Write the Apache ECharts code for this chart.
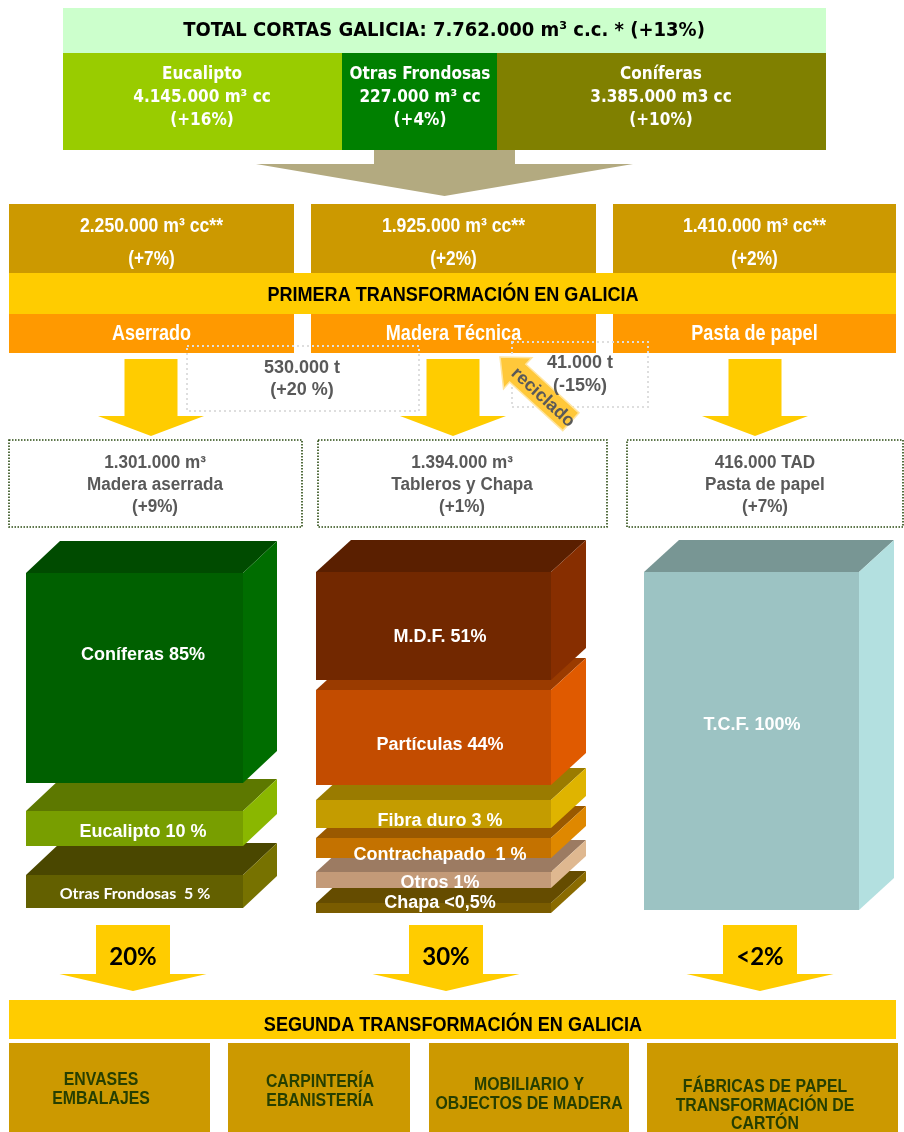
<!DOCTYPE html>
<html><head><meta charset="utf-8">
<script src="https://cdn.jsdelivr.net/npm/echarts@6/dist/echarts.min.js"></script>
<style>html,body{margin:0;padding:0;background:#fff}#c{width:904px;height:1132px}</style>
</head><body><div id="c"></div>
<script>
// ---------- DATA ----------
const totalTitle = 'TOTAL CORTAS GALICIA: 7.762.000 m³ c.c. * (+13%)';
const speciesNames = ['Eucalipto', 'Otras Frondosas', 'Coníferas'];
const speciesVolumes = ['4.145.000 m³ cc', '227.000 m³ cc', '3.385.000 m3 cc'];
const speciesChanges = ['(+16%)', '(+4%)', '(+10%)'];
const firstVolumes = ['2.250.000 m³ cc**', '1.925.000 m³ cc**', '1.410.000 m³ cc**'];
const firstChanges = ['(+7%)', '(+2%)', '(+2%)'];
const firstTitle = 'PRIMERA TRANSFORMACIÓN EN GALICIA';
const industries = ['Aserrado', 'Madera Técnica', 'Pasta de papel'];
const flowAmounts = ['530.000 t', '41.000 t'];
const flowChanges = ['(+20 %)', '(-15%)'];
const recycledLabel = 'reciclado';
const productVolumes = ['1.301.000 m³', '1.394.000 m³', '416.000 TAD'];
const productNames = ['Madera aserrada', 'Tableros y Chapa', 'Pasta de papel'];
const productChanges = ['(+9%)', '(+1%)', '(+7%)'];
const sawnLabels = ['Coníferas 85%', 'Eucalipto 10 %', 'Otras Frondosas  5 %'];
const panelLabels = ['M.D.F. 51%', 'Partículas 44%', 'Fibra duro 3 %', 'Contrachapado  1 %', 'Otros 1%', 'Chapa <0,5%'];
const pulpLabels = ['T.C.F. 100%'];
const secondShares = ['20%', '30%', '<2%'];
const secondTitle = 'SEGUNDA TRANSFORMACIÓN EN GALICIA';
const secondSectors = [['ENVASES', 'EMBALAJES'], ['CARPINTERÍA', 'EBANISTERÍA'], ['MOBILIARIO Y', 'OBJECTOS DE MADERA'], ['FÁBRICAS DE PAPEL', 'TRANSFORMACIÓN DE', 'CARTÓN']];

// ---------- STYLE / LAYOUT ----------
const F_TAH = "'DejaVu Sans Condensed', 'DejaVu Sans', sans-serif";
const F_ARI = "'Liberation Sans', Arial, sans-serif";
const F_CAL = "Lato, 'Open Sans', sans-serif";
const NARROW = 0.82;
const GRAY = '#595959';
const GOLD = '#CC9900', YEL = '#FFCC00', ORA = '#FF9900';

const els = [];
function rect(x, y, w, h, style) { els.push({ type: 'rect', silent: true, shape: { x, y, width: w, height: h }, style }); }
function poly(points, fill) { els.push({ type: 'polygon', silent: true, shape: { points }, style: { fill } }); }
const texts = [];
function text(str, x, y, font, fill, sx) {
  texts.push({ type: 'text', silent: true, x, y, scaleX: sx || 1, style: { text: str, font, fill, textAlign: 'center', textVerticalAlign: 'middle' } });
}
function downArrow(cx, stemTop, stemW, headTop, headW, tipY, fill) {
  poly([[cx - stemW / 2, stemTop], [cx + stemW / 2, stemTop], [cx + stemW / 2, headTop], [cx + headW / 2, headTop],
        [cx, tipY], [cx - headW / 2, headTop], [cx - stemW / 2, headTop]], fill);
}
function box3d(x, y, w, h, dx, dy, c) {
  rect(x, y, w, h, { fill: c[0] });
  poly([[x, y], [x + w, y], [x + w + dx, y - dy], [x + dx, y - dy]], c[1]);
  poly([[x + w, y], [x + w + dx, y - dy], [x + w + dx, y - dy + h], [x + w, y + h]], c[2]);
}

// Header
rect(63, 8, 763, 45, { fill: '#CCFFCC' });
text(totalTitle, 444, 31, 'bold 20px ' + F_TAH, '#000');
const spX = [63, 342, 497, 826];
const spC = ['#99CC00', '#008000', '#808000'];
const spTx = [202, 420, 661];
speciesNames.forEach((n, i) => {
  rect(spX[i], 53, spX[i + 1] - spX[i], 97, { fill: spC[i] });
  text(n, spTx[i], 75, 'bold 17px ' + F_TAH, '#fff');
  text(speciesVolumes[i], spTx[i], 98, 'bold 17px ' + F_TAH, '#fff');
  text(speciesChanges[i], spTx[i], 121, 'bold 17px ' + F_TAH, '#fff');
});
// big arrow
downArrow(444.5, 150, 141, 164, 377, 196, '#B3AA80');

// First transformation
const cols = [{ x: 9, w: 285 }, { x: 311, w: 285 }, { x: 613, w: 283 }];
cols.forEach((c, i) => {
  rect(c.x, 204, c.w, 70, { fill: GOLD });
  rect(c.x, 313, c.w, 40, { fill: ORA });
  const cx = c.x + c.w / 2;
  text(firstVolumes[i], cx, 226, 'bold 21px ' + F_ARI, '#fff', 0.84);
  text(firstChanges[i], cx, 259, 'bold 21px ' + F_ARI, '#fff', NARROW);
  text(industries[i], cx, 334, 'bold 22px ' + F_ARI, '#fff', NARROW);
});
rect(9, 273, 887, 41, { fill: YEL });
text(firstTitle, 453, 295, 'bold 21px ' + F_ARI, '#000', 0.86);

// gray dotted flow boxes
rect(187, 346, 232, 65, { fill: 'none', stroke: '#dedede', lineWidth: 2, lineDash: [2, 3] });
rect(512, 342, 136, 65, { fill: 'none', stroke: '#dedede', lineWidth: 2, lineDash: [2, 3] });
text(flowAmounts[0], 302, 368, 'bold 18px ' + F_ARI, GRAY);
text(flowChanges[0], 302, 390, 'bold 18px ' + F_ARI, GRAY);
text(flowAmounts[1], 580, 363, 'bold 18px ' + F_ARI, GRAY);
text(flowChanges[1], 580, 386, 'bold 18px ' + F_ARI, GRAY);

// yellow down arrows
[151, 453, 755].forEach(cx => downArrow(cx, 359, 53, 416, 106, 436, YEL));

// recycled arrow
els.push({
  type: 'group', x: 500, y: 357, rotation: -0.74, silent: true,
  children: [
    { type: 'polygon', shape: { points: [[0, 0], [24, -21], [24, -12], [96, -12], [96, 12], [24, 12], [24, 21]] },
      style: { fill: '#FFC83A', stroke: '#FFE5A0', lineWidth: 1.5 } },
    { type: 'text', x: 59, y: 1, style: { text: recycledLabel, font: 'bold 18px ' + F_ARI, fill: GRAY, textAlign: 'center', textVerticalAlign: 'middle' } }
  ]
});

// product dotted boxes
const pb = [{ x: 9, w: 293, cx: 155 }, { x: 318, w: 289, cx: 462 }, { x: 627, w: 276, cx: 765 }];
pb.forEach((b, i) => {
  rect(b.x, 440, b.w, 87, { fill: 'none', stroke: '#2a4a10', lineWidth: 1.6, lineDash: [1.5, 1.5] });
  text(productVolumes[i], b.cx, 463, 'bold 18px ' + F_ARI, GRAY, 0.95);
  text(productNames[i], b.cx, 485, 'bold 18px ' + F_ARI, GRAY, 0.95);
  text(productChanges[i], b.cx, 507, 'bold 18px ' + F_ARI, GRAY, 0.95);
});

// 3D stacks (bottom layers first)
box3d(26, 875, 217, 33, 34, 32, ['#636000', '#4a4700', '#777200']);
box3d(26, 811, 217, 35, 34, 32, ['#789E00', '#5D7800', '#8AB700']);
box3d(26, 573, 217, 210, 34, 32, ['#006000', '#004B00', '#006D00']);
text(sawnLabels[0], 143, 655, 'bold 18px ' + F_ARI, '#fff');
text(sawnLabels[1], 143, 832, 'bold 18px ' + F_ARI, '#fff');
text(sawnLabels[2], 135, 894, 'bold 16px ' + F_CAL, '#fff');

const pX = 316, pW = 235;
box3d(pX, 903, pW, 10, 35, 32, ['#7A5C00', '#654C00', '#8A6B00']);
box3d(pX, 872, pW, 16, 35, 32, ['#C39A78', '#9C7B62', '#DFB890']);
box3d(pX, 838, pW, 20, 35, 32, ['#C47200', '#9A5900', '#DF8800']);
box3d(pX, 800, pW, 28, 35, 32, ['#C49C00', '#9A7B00', '#DFB400']);
box3d(pX, 690, pW, 95, 35, 32, ['#C34C00', '#9A3B00', '#E05A00']);
box3d(pX, 572, pW, 108, 35, 32, ['#722800', '#5A1F00', '#872E00']);
const panelY = [637, 745, 821, 855, 883, 903];
panelLabels.forEach((l, i) => text(l, 440, panelY[i], 'bold 18px ' + F_ARI, '#fff'));

box3d(644, 572, 215, 338, 35, 32, ['#9CC3C3', '#789694', '#B3E0E0']);
text(pulpLabels[0], 752, 725, 'bold 18px ' + F_ARI, '#fff');

// second transformation arrows
[133, 446, 760].forEach((cx, i) => {
  downArrow(cx, 925, 74, 974, 147, 991, YEL);
  text(secondShares[i], cx, 957, 'bold 24px ' + F_CAL, '#000');
});
rect(9, 1000, 887, 39, { fill: YEL });
text(secondTitle, 453, 1025, 'bold 21px ' + F_ARI, '#000', 0.86);
const sb = [{ x: 9, w: 201, cx: 101 }, { x: 228, w: 182, cx: 320 }, { x: 429, w: 200, cx: 529 }, { x: 647, w: 251, cx: 765 }];
const sbY = [[1080, 1099], [1082, 1101], [1085, 1104], [1087, 1106, 1124]];
sb.forEach((b, i) => {
  rect(b.x, 1043, b.w, 95, { fill: GOLD });
  secondSectors[i].forEach((l, j) => text(l, b.cx, sbY[i][j], 'bold 18px ' + F_ARI, '#263F00', 0.88));
});

const chart = echarts.init(document.getElementById('c'), null, { renderer: 'canvas', width: 904, height: 1132 });
chart.setOption({ animation: false, backgroundColor: '#fff', graphic: { elements: els.concat(texts) } });
</script></body></html>
